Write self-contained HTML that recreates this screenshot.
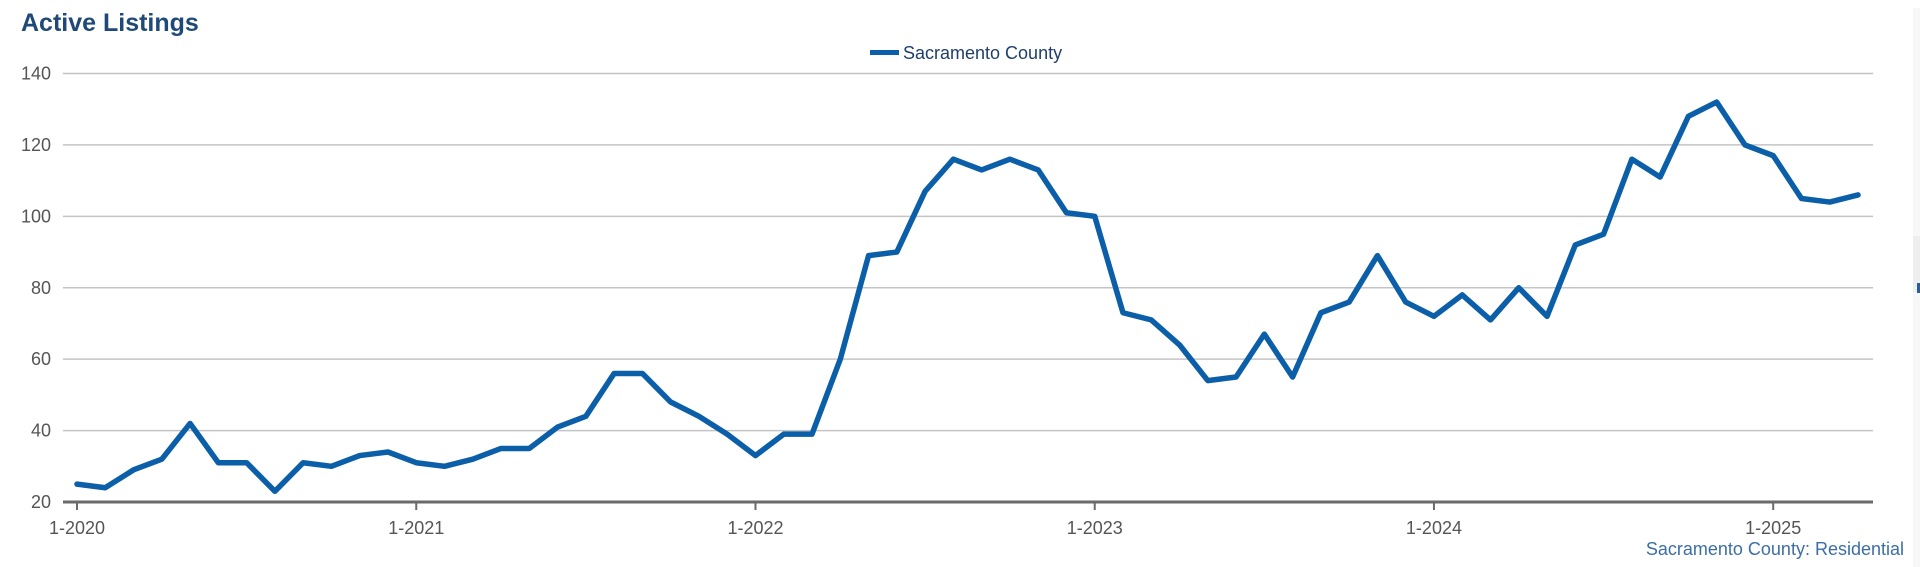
<!DOCTYPE html>
<html><head><meta charset="utf-8"><style>
html,body{margin:0;padding:0;background:#fff;width:1920px;height:567px;overflow:hidden;font-family:"Liberation Sans",sans-serif}
</style></head><body>
<svg id="chart" width="1920" height="567" xmlns="http://www.w3.org/2000/svg">
<text x="21" y="31" font-size="25" font-weight="bold" fill="#1f4a78" font-family="Liberation Sans, sans-serif">Active Listings</text>
<g>
<rect x="870" y="50" width="29" height="5" fill="#0b5ea8"/>
<text x="903" y="59" font-size="18" fill="#1f3f6a" font-family="Liberation Sans, sans-serif">Sacramento County</text>
</g>
<rect x="1913" y="8" width="7" height="559" fill="#f7f7f7"/>
<rect x="1913" y="236" width="7" height="56" fill="#eeeeee"/>
<rect x="1917" y="283" width="3" height="10" fill="#2a5d9a"/>
<g id="grid"></g><g id="axes"></g><g id="series"></g>
<text x="1904" y="555" text-anchor="end" font-size="18" fill="#3c6ea6" font-family="Liberation Sans, sans-serif">Sacramento County: Residential</text>
</svg>
<script>
const yTicks=[20,40,60,80,100,120,140];
const xTickLabels=["1-2020","1-2021","1-2022","1-2023","1-2024","1-2025"];
const xTickMonths=[0,12,24,36,48,60];
const listings=[25,24,29,32,42,31,31,23,31,30,33,34,
31,30,32,35,35,41,44,56,56,48,44,39,
33,39,39,60,89,90,107,116,113,116,113,101,
100,73,71,64,54,55,67,55,73,76,89,76,
72,78,71,80,72,92,95,116,111,128,132,120,
117,105,104,106];
const NS="http://www.w3.org/2000/svg";
const x0=77,dx=28.27,left=63,right=1873;
function X(m){return x0+m*dx;}
function Y(v){return 502-(v-20)*(502-73.5)/120;}
const grid=document.getElementById('grid'),axes=document.getElementById('axes'),series=document.getElementById('series');
yTicks.forEach(v=>{
 if(v>20){const l=document.createElementNS(NS,'line');
 
 
 l.setAttribute('x1',left);l.setAttribute('x2',right);l.setAttribute('y1',Y(v));l.setAttribute('y2',Y(v));
 l.setAttribute('stroke','#c4c4c4');l.setAttribute('stroke-width','1.5');grid.appendChild(l);}
 const t=document.createElementNS(NS,'text');
 
 
 t.setAttribute('x',51);t.setAttribute('y',Y(v)+6);t.setAttribute('text-anchor','end');
 t.setAttribute('font-size','18');t.setAttribute('fill','#555');t.textContent=v;axes.appendChild(t);
});
const ax=document.createElementNS(NS,'line');


ax.setAttribute('x1',left);ax.setAttribute('x2',right);ax.setAttribute('y1',502);ax.setAttribute('y2',502);
ax.setAttribute('stroke','#6a6a6a');ax.setAttribute('stroke-width','3');axes.appendChild(ax);
xTickMonths.forEach((m,i)=>{
 const tk=document.createElementNS(NS,'line');
 
 
 tk.setAttribute('x1',X(m));tk.setAttribute('x2',X(m));tk.setAttribute('y1',502);tk.setAttribute('y2',510);
 tk.setAttribute('stroke','#6a6a6a');tk.setAttribute('stroke-width','2');axes.appendChild(tk);
 const t=document.createElementNS(NS,'text');
 
 
 t.setAttribute('x',X(m));t.setAttribute('y',534);t.setAttribute('text-anchor','middle');
 t.setAttribute('font-size','18');t.setAttribute('fill','#555');t.textContent=xTickLabels[i];axes.appendChild(t);
});
const p=document.createElementNS(NS,'polyline');


p.setAttribute('points',listings.map((v,i)=>X(i)+','+Y(v)).join(' '));
p.setAttribute('fill','none');p.setAttribute('stroke','#0b5ea8');p.setAttribute('stroke-width','5.5');
p.setAttribute('stroke-linejoin','round');p.setAttribute('stroke-linecap','round');
series.appendChild(p);
</script>
</body></html>
